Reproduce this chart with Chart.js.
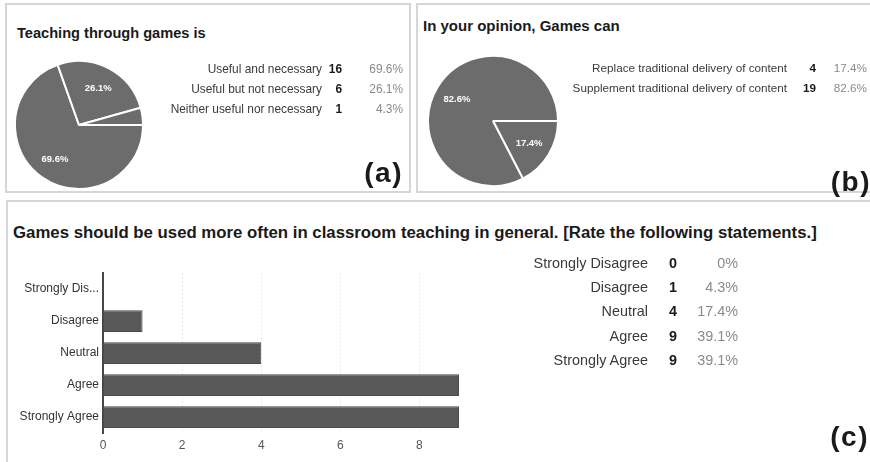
<!DOCTYPE html>
<html>
<head>
<meta charset="utf-8">
<script src="https://cdn.jsdelivr.net/npm/chart.js@4/dist/chart.umd.min.js"></script>
<style>
  html, body { margin: 0; padding: 0; background: #fff; }
  body { position: relative; width: 870px; height: 462px; overflow: hidden;
         font-family: "Liberation Sans", Arial, sans-serif; }
  .panel { position: absolute; box-sizing: border-box; border: 2px solid #d6d6d6; background: #fff; }
  .txt { position: absolute; white-space: nowrap; }
  canvas { position: absolute; }
</style>
</head>
<body>
<div class="panel" style="left:5px;top:3px;width:406px;height:190px"></div>
<div class="panel" style="left:416px;top:3px;width:470px;height:190px"></div>
<div class="panel" style="left:6px;top:200px;width:880px;height:290px"></div>

<div id="pieA" style="position:absolute;left:9px;top:55px;width:140px;height:140px"><canvas id="cA"></canvas></div>
<div id="pieB" style="position:absolute;left:423px;top:51px;width:140px;height:140px"><canvas id="cB"></canvas></div>
<div id="barC" style="position:absolute;left:10px;top:262px;width:465px;height:198px"><canvas id="cC"></canvas></div>

<script>
// Survey answers
const teachingTitle = 'Teaching through games is';
const teachingCategories = ['Useful and necessary', 'Useful but not necessary', 'Neither useful nor necessary'];
const teachingCounts = [16, 6, 1];

const gamesCanTitle = 'In your opinion, Games can';
const gamesCanCategories = ['Replace traditional delivery of content', 'Supplement traditional delivery of content'];
const gamesCanCounts = [4, 19];

const ratingTitle = 'Games should be used more often in classroom teaching in general. [Rate the following statements.]';
const ratingCategories = ['Strongly Disagree', 'Disagree', 'Neutral', 'Agree', 'Strongly Agree'];
const ratingCounts = [0, 1, 4, 9, 9];
const ratingTicks = [0, 2, 4, 6, 8];

const FONT = '"Liberation Sans", Arial, sans-serif';

function pct(count, counts) {
  const total = counts.reduce((a, b) => a + b, 0);
  const p = count / total * 100;
  return p === 0 ? '0%' : p.toFixed(1) + '%';
}

// Absolutely placed text; anchor is the right edge (align 'right') or left edge
function put(text, x, cy, size, weight, color, align) {
  const d = document.createElement('div');
  d.className = 'txt';
  d.textContent = text;
  const lh = Math.round(size * 1.3);
  d.style.font = weight + ' ' + size + 'px ' + FONT;
  d.style.lineHeight = lh + 'px';
  d.style.color = color;
  d.style.top = (cy - lh / 2) + 'px';
  if (align === 'right') {
    d.style.left = (x - 400) + 'px';
    d.style.width = '400px';
    d.style.textAlign = 'right';
  } else {
    d.style.left = x + 'px';
  }
  document.body.appendChild(d);
  return d;
}

function table(cats, counts, rows, size, xLabel, xCount, xPct) {
  cats.forEach((c, i) => {
    put(c, xLabel, rows[i], size, 'normal', '#3a3a3a', 'right');
    put(String(counts[i]), xCount, rows[i], size, 'bold', '#1a1a1a', 'right');
    put(pct(counts[i], counts), xPct, rows[i], size, 'normal', '#8a8a8a', 'right');
  });
}

// Titles, tables and panel tags
put(teachingTitle, 17, 33, 14.6, 'bold', '#1a1a1a', 'left');
table(teachingCategories, teachingCounts, [69, 89, 109], 11.9, 322, 342, 403);
put('(a)', 403, 173, 28, 'bold', '#1a1a1a', 'right').style.letterSpacing = '1.5px';

put(gamesCanTitle, 423, 26, 15, 'bold', '#1a1a1a', 'left');
table(gamesCanCategories, gamesCanCounts, [67, 87], 11.7, 787, 816, 867);
put('(b)', 871, 182, 28, 'bold', '#1a1a1a', 'right').style.letterSpacing = '1.5px';

put(ratingTitle, 13, 233, 16.8, 'bold', '#1a1a1a', 'left');
table(ratingCategories, ratingCounts, [263, 287, 311, 336, 360], 14.4, 648, 677, 738);
put('(c)', 869, 437, 28, 'bold', '#1a1a1a', 'right').style.letterSpacing = '1.5px';

// Percent labels inside the larger slices
const sliceLabels = {
  id: 'sliceLabels',
  afterDatasetsDraw(chart) {
    const ctx = chart.ctx;
    const data = chart.data.datasets[0].data;
    const total = data.reduce((a, b) => a + b, 0);
    ctx.save();
    ctx.fillStyle = '#ffffff';
    ctx.font = 'bold 9.5px ' + FONT;
    ctx.textAlign = 'center';
    ctx.textBaseline = 'middle';
    chart.getDatasetMeta(0).data.forEach((arc, i) => {
      if (data[i] / total < 0.1) return;
      const p = arc.getProps(['x', 'y', 'startAngle', 'endAngle', 'outerRadius'], true);
      const mid = (p.startAngle + p.endAngle) / 2;
      const r = p.outerRadius * 0.65;
      ctx.fillText(pct(data[i], data), p.x + Math.cos(mid) * r, p.y + Math.sin(mid) * r);
    });
    ctx.restore();
  }
};

function pie(id, labels, counts, radius) {
  return new Chart(document.getElementById(id), {
    type: 'pie',
    data: {
      labels: labels,
      datasets: [{
        data: counts,
        backgroundColor: '#6c6c6c',
        borderColor: '#ffffff',
        borderWidth: 2
      }]
    },
    options: {
      responsive: true,
      maintainAspectRatio: false,
      animation: false,
      rotation: 90,
      radius: radius,
      layout: { padding: 0 },
      plugins: { legend: { display: false }, tooltip: { enabled: false } }
    },
    plugins: [sliceLabels]
  });
}

pie('cA', teachingCategories, teachingCounts, 64);
pie('cB', gamesCanCategories, gamesCanCounts, 65);

new Chart(document.getElementById('cC'), {
  type: 'bar',
  data: {
    labels: ratingCategories,
    datasets: [{
      data: ratingCounts,
      backgroundColor: '#595959',
      borderColor: '#4a4a4a',
      borderWidth: 1,
      barPercentage: 0.68,
      categoryPercentage: 1
    }]
  },
  options: {
    indexAxis: 'y',
    responsive: true,
    maintainAspectRatio: false,
    animation: false,
    layout: { padding: { top: 11, right: 16, left: 0, bottom: 0 } },
    plugins: { legend: { display: false }, tooltip: { enabled: false } },
    scales: {
      x: {
        min: 0,
        max: 9,
        afterBuildTicks: s => { s.ticks = ratingTicks.map(v => ({ value: v })); },
        afterFit: s => { s.height = 27; },
        grid: { color: '#e6e6e6', lineWidth: 1, drawTicks: false },
        border: { display: false, dash: [2, 2] },
        ticks: { color: '#555', font: { family: FONT, size: 12 }, padding: 5 }
      },
      y: {
        afterFit: s => { s.width = 93; },
        grid: { display: false, drawTicks: false },
        border: { display: true, color: '#474747', width: 2 },
        ticks: {
          color: '#333',
          font: { family: FONT, size: 12 },
          padding: 4,
          callback: function (v) {
            const t = this.getLabelForValue(v);
            return t.length > 14 ? t.slice(0, 12) + '...' : t;
          }
        }
      }
    }
  }
});
</script>
</body>
</html>
